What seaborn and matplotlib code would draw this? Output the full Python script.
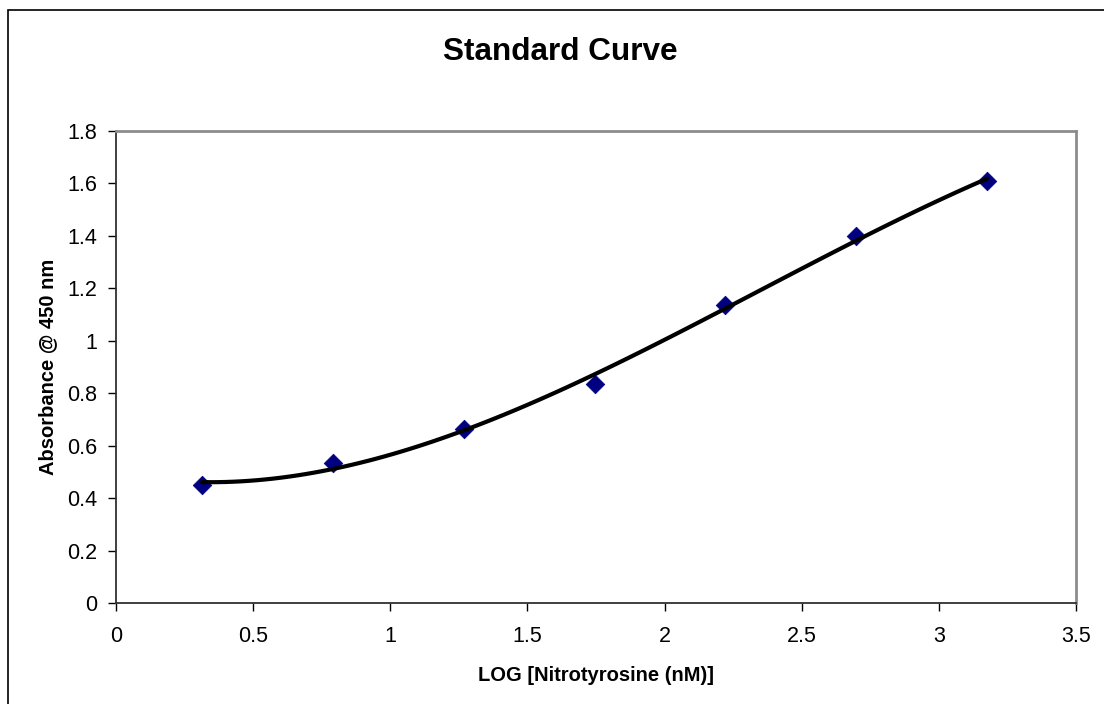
import numpy as np
import pandas as pd
import matplotlib
matplotlib.use("Agg")
import matplotlib.pyplot as plt
from matplotlib.patches import Rectangle
import seaborn as sns

# Data
log_conc = [0.313, 0.790, 1.268, 1.745, 2.222, 2.699, 3.176]
absorbance = [0.450, 0.535, 0.662, 0.835, 1.135, 1.400, 1.609]
x_ticks = [0, 0.5, 1, 1.5, 2, 2.5, 3, 3.5]
x_tick_labels = ["0", "0.5", "1", "1.5", "2", "2.5", "3", "3.5"]
y_ticks = [0, 0.2, 0.4, 0.6, 0.8, 1.0, 1.2, 1.4, 1.6, 1.8]
y_tick_labels = ["0", "0.2", "0.4", "0.6", "0.8", "1", "1.2", "1.4", "1.6", "1.8"]

df = pd.DataFrame({"x": log_conc, "y": absorbance})

sns.set_style("ticks")
plt.rcParams["font.family"] = ["Liberation Sans", "DejaVu Sans"]
plt.rcParams["text.color"] = "black"
plt.rcParams["axes.labelcolor"] = "black"
plt.rcParams["xtick.color"] = "black"
plt.rcParams["ytick.color"] = "black"

W, H = 1104, 704
fig = plt.figure(figsize=(W / 100, H / 100), dpi=100)
ax = fig.add_axes([116 / W, 1 - 603 / H, (1076 - 116) / W, (603 - 131) / H])

# markers
sns.scatterplot(data=df, x="x", y="y", marker="D", s=90, color="#000080",
                edgecolor="#000080", linewidth=0.5, ax=ax, zorder=2)
# 3rd order polynomial trendline
sns.regplot(data=df, x="x", y="y", order=3, ci=None, scatter=False,
            line_kws=dict(color="black", linewidth=3.0, zorder=3,
                          solid_capstyle="round"), ax=ax, truncate=True)

ax.set_xlim(0, 3.5)
ax.set_ylim(0, 1.8)
ax.set_xticks(x_ticks)
ax.set_xticklabels(x_tick_labels)
ax.set_yticks(y_ticks)
ax.set_yticklabels(y_tick_labels)

ax.tick_params(axis="both", direction="out", length=5.5, width=1.0,
               color="black", labelsize=15.5, labelcolor="black")
ax.tick_params(axis="y", pad=8)
ax.tick_params(axis="x", pad=11)

for side in ["left", "bottom"]:
    ax.spines[side].set_color("#303030")
    ax.spines[side].set_linewidth(1.3)
for side in ["top", "right"]:
    ax.spines[side].set_visible(True)
    ax.spines[side].set_color("#8c8c8c")
    ax.spines[side].set_linewidth(2.0)

ax.set_xlabel("LOG [Nitrotyrosine (nM)]", fontsize=14.5, fontweight="bold", labelpad=14)
ax.set_ylabel("Absorbance @ 450 nm", fontsize=14.5, fontweight="bold", labelpad=7)
ax.grid(False)

fig.text(560 / W, 1 - 60 / H, "Standard Curve", fontsize=22.7, fontweight="bold",
         ha="center", va="baseline")

# outer chart-area frame (right/bottom edges lie outside the image)
fig.patches.append(Rectangle((8 / W, -0.2), 2.0, (1 - 10 / H) + 0.2,
                             transform=fig.transFigure, fill=False,
                             edgecolor="black", linewidth=1.2, clip_on=False))

fig.savefig("out.png", dpi=100, facecolor="white")
